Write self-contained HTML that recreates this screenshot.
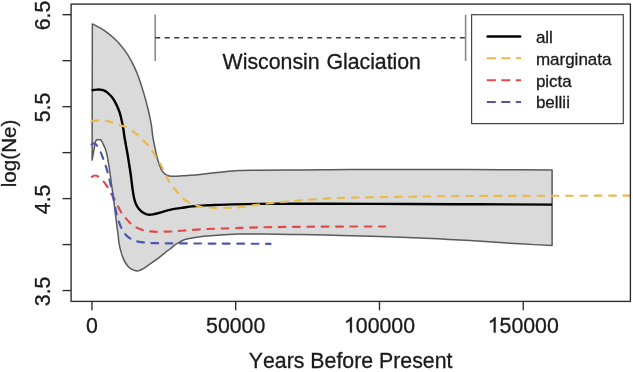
<!DOCTYPE html>
<html><head><meta charset="utf-8"><style>
html,body{margin:0;padding:0;background:#fff;width:633px;height:372px;overflow:hidden}
svg{display:block;filter:blur(0.35px)}
text{font-kerning:none;font-feature-settings:'kern' 0;font-family:"Liberation Sans", sans-serif;fill:#1a1a1a;stroke:#1a1a1a;stroke-width:0.3px}
</style></head><body>
<svg width="633" height="372" viewBox="0 0 633 372">
<rect x="0" y="0" width="633" height="372" fill="#fff"/>
<path d="M92.35,23.90 C93.64,24.57 97.60,26.43 100.12,27.92 C102.64,29.42 105.12,31.10 107.49,32.87 C109.86,34.64 112.16,36.55 114.32,38.56 C116.48,40.57 118.53,42.70 120.45,44.92 C122.37,47.14 124.16,49.47 125.83,51.87 C127.50,54.27 129.03,56.78 130.46,59.33 C131.89,61.88 133.20,64.51 134.43,67.18 C135.66,69.85 136.77,72.58 137.83,75.33 C138.89,78.08 139.87,80.87 140.80,83.67 C141.74,86.47 142.60,89.31 143.44,92.14 C144.28,94.97 145.08,97.81 145.85,100.66 C146.62,103.50 147.36,106.35 148.05,109.21 C148.74,112.07 149.42,114.92 150.01,117.80 C150.60,120.68 151.15,123.55 151.58,126.47 C152.01,129.39 152.26,132.88 152.60,135.30 C152.94,137.72 153.25,139.13 153.60,141.00 C153.95,142.87 154.17,143.97 154.70,146.50 C155.23,149.03 156.07,153.28 156.80,156.20 C157.53,159.12 158.27,161.63 159.10,164.00 C159.93,166.37 160.80,168.70 161.80,170.40 C162.80,172.10 163.83,173.27 165.10,174.20 C166.37,175.13 167.80,175.65 169.40,176.00 C171.00,176.35 172.55,176.33 174.70,176.30 C176.85,176.27 179.75,175.97 182.30,175.80 C184.85,175.63 187.05,175.53 190.00,175.30 C192.95,175.07 195.00,174.92 200.00,174.40 C205.00,173.88 213.60,172.85 220.00,172.20 C226.40,171.55 231.73,170.83 238.40,170.50 C245.07,170.17 251.93,170.28 260.00,170.20 C268.07,170.12 276.80,170.07 286.80,170.00 C296.80,169.93 309.47,169.87 320.00,169.80 C330.53,169.73 336.67,169.65 350.00,169.60 C363.33,169.55 383.33,169.53 400.00,169.50 C416.67,169.47 433.33,169.37 450.00,169.40 C466.67,169.43 482.98,169.58 500.00,169.70 C517.02,169.82 543.42,170.03 552.10,170.10 L552.1,245.6 L552.10,245.60 C546.75,245.30 528.68,244.32 520.00,243.80 C511.32,243.28 508.33,243.03 500.00,242.50 C491.67,241.97 478.33,241.12 470.00,240.60 C461.67,240.08 458.33,239.85 450.00,239.40 C441.67,238.95 431.67,238.37 420.00,237.90 C408.33,237.43 393.33,237.02 380.00,236.60 C366.67,236.18 353.33,235.73 340.00,235.40 C326.67,235.07 312.50,234.82 300.00,234.60 C287.50,234.38 273.33,234.18 265.00,234.10 C256.67,234.02 254.30,234.10 250.00,234.10 C245.70,234.10 242.83,234.05 239.20,234.10 C235.57,234.15 231.88,234.22 228.20,234.40 C224.52,234.58 220.78,234.92 217.10,235.20 C213.42,235.48 208.95,235.83 206.10,236.10 C203.25,236.37 202.30,236.50 200.00,236.80 C197.70,237.10 194.93,237.42 192.30,237.90 C189.67,238.38 186.90,238.67 184.20,239.70 C181.50,240.73 178.47,242.55 176.10,244.10 C173.73,245.65 171.77,247.63 170.00,249.00 C168.23,250.37 167.07,251.08 165.50,252.30 C163.93,253.52 162.48,254.83 160.60,256.30 C158.72,257.77 156.62,259.35 154.20,261.10 C151.78,262.85 148.38,265.32 146.10,266.80 C143.82,268.28 141.93,269.28 140.50,270.00 C139.07,270.72 138.73,271.12 137.50,271.10 C136.27,271.08 134.55,270.53 133.10,269.90 C131.65,269.27 130.05,268.45 128.80,267.30 C127.55,266.15 126.58,264.62 125.60,263.00 C124.62,261.38 123.70,259.58 122.90,257.60 C122.10,255.62 121.43,253.43 120.80,251.10 C120.17,248.77 119.55,246.28 119.10,243.60 C118.65,240.92 118.57,238.72 118.10,235.00 C117.63,231.28 117.03,227.08 116.30,221.30 C115.57,215.52 114.48,206.35 113.70,200.30 C112.92,194.25 112.15,189.05 111.60,185.00 C111.05,180.95 110.78,178.78 110.40,176.00 C110.02,173.22 109.67,170.67 109.30,168.30 C108.93,165.93 108.57,163.95 108.20,161.80 C107.83,159.65 107.55,157.47 107.10,155.40 C106.65,153.33 106.12,151.20 105.50,149.40 C104.88,147.60 103.93,145.78 103.40,144.60 C102.87,143.42 102.48,142.68 102.30,142.30 L101.2,140.3 L100.6,139.8 L97,139.7 L96.1,140.3 L95.3,142.5 L92.1,160.1 Z" fill="#dadada" stroke="#5a5a5a" stroke-width="1.5" stroke-linejoin="round"/>
<path d="M91.90,176.80 C92.43,176.58 94.03,175.53 95.10,175.50 C96.17,175.47 97.32,176.07 98.30,176.60 C99.28,177.13 100.15,177.92 101.00,178.70 C101.85,179.48 102.53,180.25 103.40,181.30 C104.27,182.35 105.35,183.80 106.20,185.00 C107.05,186.20 107.77,187.25 108.50,188.50 C109.23,189.75 109.88,191.18 110.60,192.50 C111.32,193.82 112.10,195.17 112.80,196.40 C113.50,197.63 114.02,198.43 114.80,199.90 C115.58,201.37 116.63,203.48 117.50,205.20 C118.37,206.92 119.05,208.55 120.00,210.20 C120.95,211.85 122.18,213.70 123.20,215.10 C124.22,216.50 125.07,217.42 126.10,218.60 C127.13,219.78 128.33,221.13 129.40,222.20 C130.47,223.27 131.43,224.17 132.50,225.00 C133.57,225.83 134.17,226.38 135.80,227.20 C137.43,228.02 139.78,229.20 142.30,229.90 C144.82,230.60 148.37,231.08 150.90,231.40 C153.43,231.72 154.17,231.78 157.50,231.80 C160.83,231.82 166.45,231.72 170.90,231.50 C175.35,231.28 177.95,230.92 184.20,230.50 C190.45,230.08 200.33,229.38 208.40,229.00 C216.47,228.62 224.53,228.47 232.60,228.20 C240.67,227.93 245.57,227.63 256.80,227.40 C268.03,227.17 284.47,226.95 300.00,226.80 C315.53,226.65 335.80,226.55 350.00,226.50 C364.20,226.45 379.33,226.50 385.20,226.50" fill="none" stroke="#DE4B4B" stroke-width="2.2" stroke-dasharray="6.7 7.6" stroke-linecap="round"/>
<path d="M91.60,144.40 C91.93,144.23 92.93,143.47 93.60,143.40 C94.27,143.33 94.90,143.43 95.60,144.00 C96.30,144.57 96.95,145.43 97.80,146.80 C98.65,148.17 99.73,150.03 100.70,152.20 C101.67,154.37 102.73,157.42 103.60,159.80 C104.47,162.18 105.18,164.22 105.90,166.50 C106.62,168.78 107.25,171.08 107.90,173.50 C108.55,175.92 109.18,178.42 109.80,181.00 C110.42,183.58 111.03,186.33 111.60,189.00 C112.17,191.67 112.70,194.42 113.20,197.00 C113.70,199.58 114.13,202.07 114.60,204.50 C115.07,206.93 115.53,209.47 116.00,211.60 C116.47,213.73 116.93,215.63 117.40,217.30 C117.87,218.97 118.23,220.02 118.80,221.60 C119.37,223.18 120.12,225.27 120.80,226.80 C121.48,228.33 122.18,229.60 122.90,230.80 C123.62,232.00 124.32,233.03 125.10,234.00 C125.88,234.97 126.72,235.85 127.60,236.60 C128.48,237.35 129.33,237.88 130.40,238.50 C131.47,239.12 132.73,239.78 134.00,240.30 C135.27,240.82 136.27,241.23 138.00,241.60 C139.73,241.97 141.90,242.25 144.40,242.50 C146.90,242.75 147.90,242.95 153.00,243.10 C158.10,243.25 163.83,243.32 175.00,243.40 C186.17,243.48 204.07,243.53 220.00,243.60 C235.93,243.67 262.17,243.77 270.60,243.80" fill="none" stroke="#4B58AE" stroke-width="2.2" stroke-dasharray="6.7 7.6" stroke-linecap="round"/>
<path d="M91.60,90.60 C92.00,90.48 93.10,90.07 94.00,89.90 C94.90,89.73 96.00,89.65 97.00,89.60 C98.00,89.55 99.08,89.53 100.00,89.60 C100.92,89.67 101.70,89.80 102.50,90.00 C103.30,90.20 104.08,90.45 104.80,90.80 C105.52,91.15 106.02,91.48 106.80,92.10 C107.58,92.72 108.60,93.60 109.50,94.50 C110.40,95.40 111.40,96.48 112.20,97.50 C113.00,98.52 113.63,99.48 114.30,100.60 C114.97,101.72 115.58,102.93 116.20,104.20 C116.82,105.47 117.43,106.85 118.00,108.20 C118.57,109.55 119.15,110.97 119.60,112.30 C120.05,113.63 120.37,114.87 120.70,116.20 C121.03,117.53 121.28,118.83 121.60,120.30 C121.92,121.77 122.28,123.38 122.60,125.00 C122.92,126.62 123.20,128.08 123.50,130.00 C123.80,131.92 123.97,133.80 124.40,136.50 C124.83,139.20 125.55,143.12 126.10,146.20 C126.65,149.28 127.17,151.82 127.70,155.00 C128.23,158.18 128.78,161.97 129.30,165.30 C129.82,168.63 130.27,171.12 130.80,175.00 C131.33,178.88 131.98,184.90 132.50,188.60 C133.02,192.30 133.35,194.68 133.90,197.20 C134.45,199.72 134.95,201.73 135.80,203.70 C136.65,205.67 137.75,207.48 139.00,209.00 C140.25,210.52 141.87,211.87 143.30,212.80 C144.73,213.73 145.98,214.33 147.60,214.60 C149.22,214.87 151.22,214.65 153.00,214.40 C154.78,214.15 156.30,213.63 158.30,213.10 C160.30,212.57 163.05,211.75 165.00,211.20 C166.95,210.65 168.15,210.23 170.00,209.80 C171.85,209.37 173.77,208.98 176.10,208.60 C178.43,208.22 181.30,207.87 184.00,207.50 C186.70,207.13 189.63,206.70 192.30,206.40 C194.97,206.10 197.32,205.88 200.00,205.70 C202.68,205.52 205.90,205.42 208.40,205.30 C210.90,205.18 210.97,205.15 215.00,205.00 C219.03,204.85 225.10,204.58 232.60,204.40 C240.10,204.22 248.77,204.00 260.00,203.90 C271.23,203.80 288.33,203.82 300.00,203.80 C311.67,203.78 311.67,203.77 330.00,203.80 C348.33,203.83 385.00,203.92 410.00,204.00 C435.00,204.08 456.32,204.20 480.00,204.30 C503.68,204.40 540.08,204.55 552.10,204.60" fill="none" stroke="#000" stroke-width="2.4" stroke-linejoin="round"/>
<path d="M91.60,121.00 C92.42,120.90 94.93,120.48 96.50,120.40 C98.07,120.32 99.40,120.42 101.00,120.50 C102.60,120.58 104.27,120.58 106.10,120.90 C107.93,121.22 109.77,121.72 112.00,122.40 C114.23,123.08 117.17,124.22 119.50,125.00 C121.83,125.78 123.85,126.08 126.00,127.10 C128.15,128.12 130.43,129.80 132.40,131.10 C134.37,132.40 136.00,133.37 137.80,134.90 C139.60,136.43 141.43,138.52 143.20,140.30 C144.97,142.08 146.90,143.82 148.40,145.60 C149.90,147.38 151.00,149.22 152.20,151.00 C153.40,152.78 154.18,154.07 155.60,156.30 C157.02,158.53 159.43,162.18 160.70,164.40 C161.97,166.62 162.37,167.83 163.20,169.60 C164.03,171.37 164.87,173.27 165.70,175.00 C166.53,176.73 167.35,178.47 168.20,180.00 C169.05,181.53 169.78,182.75 170.80,184.20 C171.82,185.65 173.18,187.35 174.30,188.70 C175.42,190.05 176.38,191.05 177.50,192.30 C178.62,193.55 179.88,195.02 181.00,196.20 C182.12,197.38 183.03,198.45 184.20,199.40 C185.37,200.35 186.65,201.13 188.00,201.90 C189.35,202.67 190.25,203.22 192.30,204.00 C194.35,204.78 197.08,205.97 200.30,206.60 C203.52,207.23 207.57,207.60 211.60,207.80 C215.63,208.00 220.43,207.83 224.50,207.80 C228.57,207.77 232.58,207.82 236.00,207.60 C239.42,207.38 241.67,206.95 245.00,206.50 C248.33,206.05 251.67,205.47 256.00,204.90 C260.33,204.33 266.00,203.63 271.00,203.10 C276.00,202.57 281.50,202.13 286.00,201.70 C290.50,201.27 292.50,200.95 298.00,200.50 C303.50,200.05 310.33,199.47 319.00,199.00 C327.67,198.53 334.83,198.08 350.00,197.70 C365.17,197.32 390.00,196.98 410.00,196.70 C430.00,196.42 448.33,196.15 470.00,196.00 C491.67,195.85 513.17,195.87 540.00,195.80 C566.83,195.73 615.83,195.63 631.00,195.60" fill="none" stroke="#E8BA48" stroke-width="2.1" stroke-dasharray="6.7 7.575" stroke-linecap="round"/>
<rect x="0" y="0" width="71" height="372" fill="#fff"/>
<rect x="630.5" y="0" width="3" height="372" fill="#fff"/>
<g stroke="#8a8a8a" stroke-width="1.6"><line x1="155.2" y1="14.4" x2="155.2" y2="61"/><line x1="465.6" y1="14.8" x2="465.6" y2="61"/></g>
<line x1="155.2" y1="37.7" x2="465.6" y2="37.7" stroke="#3a3a3a" stroke-width="1.6" stroke-dasharray="5 4.52"/>
<text x="222.6" y="69.35" font-size="21.3">Wisconsin</text><text x="326.6" y="69.35" font-size="21.3" letter-spacing="-0.05">Glaciation</text>
<rect x="471.6" y="14.7" width="151.7" height="108.9" fill="#fff" stroke="#444" stroke-width="1.2"/>
<line x1="487.6" y1="36.5" x2="520.2" y2="36.5" stroke="#000000" stroke-width="2.5" stroke-linecap="round" /><text x="535.9" y="43.3" font-size="17">all</text><line x1="486.8" y1="58.3" x2="521" y2="58.3" stroke="#E8BA48" stroke-width="1.9" stroke-dasharray="9 5.5" /><text x="535.9" y="64.9" font-size="17">marginata</text><line x1="486.8" y1="80.3" x2="521" y2="80.3" stroke="#DE4B4B" stroke-width="1.9" stroke-dasharray="9 5.5" /><text x="535.9" y="86.5" font-size="17">picta</text><line x1="486.8" y1="102.0" x2="521" y2="102.0" stroke="#4B58AE" stroke-width="1.9" stroke-dasharray="9 5.5" /><text x="535.9" y="108.1" font-size="17">bellii</text>
<g stroke="#2a2a2a" stroke-width="1.35" fill="none">
<rect x="71.1" y="4.1" width="559.3" height="297.3"/>
<line x1="91.95" y1="301.5" x2="91.95" y2="310.3" /><line x1="235.71" y1="301.5" x2="235.71" y2="310.3" /><line x1="379.48" y1="301.5" x2="379.48" y2="310.3" /><line x1="523.25" y1="301.5" x2="523.25" y2="310.3" />
<line x1="62.5" y1="290.55" x2="71" y2="290.55" /><line x1="62.5" y1="244.57" x2="71" y2="244.57" /><line x1="62.5" y1="198.60" x2="71" y2="198.60" /><line x1="62.5" y1="152.62" x2="71" y2="152.62" /><line x1="62.5" y1="106.65" x2="71" y2="106.65" /><line x1="62.5" y1="60.67" x2="71" y2="60.67" /><line x1="62.5" y1="14.70" x2="71" y2="14.70" />
</g>
<g font-size="21.3">
<text x="91.95" y="332.60" text-anchor="middle">0</text><text x="235.71" y="332.60" text-anchor="middle">50000</text><path d="M763 0H583V1147Q518 1085 412.5 1023T222 930V1104Q373 1175 486 1276T646 1472H763V0Z" transform="translate(343.94,332.60) scale(0.01040,-0.01040)" fill="#1a1a1a" stroke="#1a1a1a" stroke-width="28.8"/><text x="355.79" y="332.60">00000</text><path d="M763 0H583V1147Q518 1085 412.5 1023T222 930V1104Q373 1175 486 1276T646 1472H763V0Z" transform="translate(487.71,332.60) scale(0.01040,-0.01040)" fill="#1a1a1a" stroke="#1a1a1a" stroke-width="28.8"/><text x="499.55" y="332.60">50000</text>
<text transform="translate(49.8,291.35) rotate(-90)" text-anchor="middle">3.5</text><text transform="translate(49.8,199.40) rotate(-90)" text-anchor="middle">4.5</text><text transform="translate(49.8,107.45) rotate(-90)" text-anchor="middle">5.5</text><text transform="translate(49.8,15.50) rotate(-90)" text-anchor="middle">6.5</text>
<text x="350.6" y="367.6" text-anchor="middle">Years Before Present</text>
<text transform="translate(16.1,153.4) rotate(-90)" text-anchor="middle" font-size="20.7">log(Ne)</text>
</g>
</svg>
</body></html>
